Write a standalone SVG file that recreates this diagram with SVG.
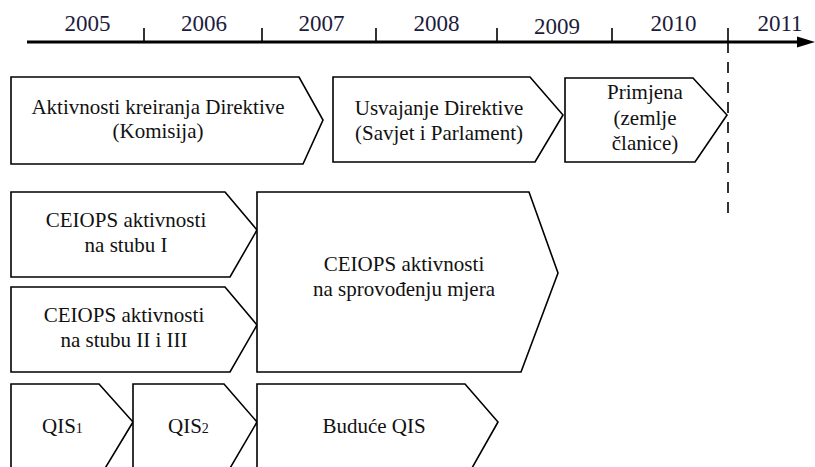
<svg xmlns="http://www.w3.org/2000/svg" width="815" height="467" viewBox="0 0 815 467">
<style>
.box{fill:#fff;stroke:#000;stroke-width:1.6;stroke-linejoin:miter}
text{font-family:'Liberation Serif','DejaVu Serif',serif}
.t{font-size:21px;fill:#111;text-anchor:middle}
.tl{font-size:21px;fill:#111}
.yr{font-size:23px;fill:#1c1c3c;text-anchor:middle}
.sub{font-size:14px}
.tick{stroke:#000;stroke-width:1.6}
</style>
<rect width="815" height="467" fill="#fff"/>
<g id="timeline">
<line x1="27" y1="42" x2="800" y2="42" stroke="#000" stroke-width="3"/>
<polygon points="797,36.5 815,42 797,47.5" fill="#000"/>
<line class="tick" x1="144" y1="28" x2="144" y2="42"/>
<line class="tick" x1="262" y1="28" x2="262" y2="42"/>
<line class="tick" x1="376" y1="28" x2="376" y2="42"/>
<line class="tick" x1="497" y1="28" x2="497" y2="42"/>
<line class="tick" x1="612" y1="28" x2="612" y2="42"/>
<line class="tick" x1="728" y1="28" x2="728" y2="42"/>
<text class="yr" x="87.5" y="31">2005</text>
<text class="yr" x="204" y="31">2006</text>
<text class="yr" x="321.5" y="31">2007</text>
<text class="yr" x="436.5" y="31">2008</text>
<text class="yr" x="557" y="34">2009</text>
<text class="yr" x="673.5" y="31">2010</text>
<text class="yr" x="780" y="31">2011</text>
</g>
<g id="connectors">
<line x1="728" y1="42" x2="728" y2="222" stroke="#000" stroke-width="1.6" stroke-dasharray="11 9"/>
</g>
<g id="n1">
<polygon class="box" points="11,77 299,77 323,120 303,164 11,164"/>
<text class="t" x="158" y="114">Aktivnosti kreiranja Direktive</text>
<text class="t" x="158" y="138">(Komisija)</text>
</g>
<g id="n2">
<polygon class="box" points="333,77 530,77 563,115 535,162 333,162"/>
<text class="t" x="439" y="115">Usvajanje Direktive</text>
<text class="t" x="439" y="140">(Savjet i Parlament)</text>
</g>
<g id="n3">
<polygon class="box" points="565,78 693,78 727,115 695,162 565,162"/>
<text class="t" x="645" y="99">Primjena</text>
<text class="t" x="645" y="124.5">(zemlje</text>
<text class="t" x="645" y="150">članice)</text>
</g>
<g id="n4">
<polygon class="box" points="11,192 225,192 257,230 230,277 11,277"/>
<text class="t" x="126" y="227">CEIOPS aktivnosti</text>
<text class="t" x="126" y="252">na stubu I</text>
</g>
<g id="n5">
<polygon class="box" points="11,287 225,287 257,325 230,372 11,372"/>
<text class="t" x="124" y="322">CEIOPS aktivnosti</text>
<text class="t" x="124" y="347">na stubu II i III</text>
</g>
<g id="n6">
<polygon class="box" points="257,192 529,192 558,273 521,372 257,372"/>
<text class="t" x="404" y="271">CEIOPS aktivnosti</text>
<text class="t" x="404" y="296">na sprovođenju mjera</text>
</g>
<g id="n7">
<polygon class="box" points="11,384 99,384 133,422 101,475 11,475"/>
<text class="tl" x="42" y="433">QIS<tspan class="sub">1</tspan></text>
</g>
<g id="n8">
<polygon class="box" points="133,384 224,384 257,422 226,475 133,475"/>
<text class="tl" x="168" y="433">QIS<tspan class="sub">2</tspan></text>
</g>
<g id="n9">
<polygon class="box" points="257,384 465,384 498,422 468,475 257,475"/>
<text class="t" x="374" y="433">Buduće QIS</text>
</g>
</svg>
